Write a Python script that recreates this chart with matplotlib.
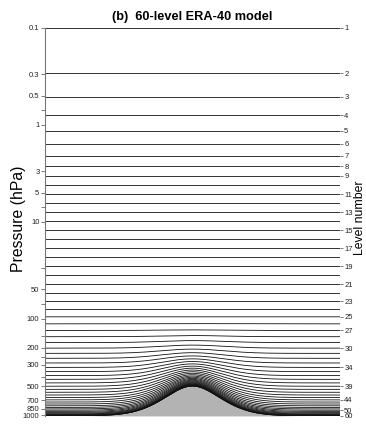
import numpy as np
import matplotlib.pyplot as plt

plt.rcParams['font.family'] = ['Liberation Sans', 'DejaVu Sans']

# ERA-40 L60 hybrid coefficients on half levels 0..60 (a in Pa, b dimensionless)
a_half = [0.000000, 20.000000, 38.425343, 63.647804, 95.636963, 134.483307,
          180.584351, 234.779053, 298.495789, 373.971924, 464.618134,
          575.651001, 713.218079, 883.660522, 1094.834717, 1356.474609,
          1680.640259, 2082.273926, 2579.888672, 3196.421631, 3960.291504,
          4906.708496, 6018.019531, 7306.631348, 8765.053711, 10376.126953,
          12077.446289, 13775.325195, 15379.805664, 16819.474609,
          18045.183594, 19027.695313, 19755.109375, 20222.205078,
          20429.863281, 20384.480469, 20097.402344, 19584.330078,
          18864.750000, 17961.357422, 16899.468750, 15706.447266,
          14411.124023, 13043.218750, 11632.758789, 10209.500977,
          8802.356445, 7438.803223, 6144.314941, 4941.778320, 3850.913330,
          2887.696533, 2063.779785, 1385.912598, 855.361755, 467.333588,
          210.393890, 65.889244, 7.367743, 0.000000, 0.000000]
b_half = [0.0] * 24 + [
    0.0000758235, 0.0004613950, 0.0018151561, 0.0050811190, 0.0111429105,
    0.0206778757, 0.0341211632, 0.0516904071, 0.0735338330, 0.0996746942,
    0.1300225109, 0.1643843204, 0.2024759352, 0.2439331412, 0.2883229554,
    0.3351548910, 0.3838921487, 0.4339629412, 0.4847715795, 0.5357099175,
    0.5861684084, 0.6355474591, 0.6832686067, 0.7287858129, 0.7715966105,
    0.8112534285, 0.8473749161, 0.8796569109, 0.9078838825, 0.9319403172,
    0.9518215060, 0.9676452279, 0.9796627164, 0.9882701039, 0.9940194488,
    0.9976301193, 1.0000000000]

p_surf = 1013.25   # hPa away from the hill
p_peak = 500.0     # hPa on the summit
hill_width = 0.305

press_ticks = [0.1, 0.3, 0.5, 0.7, 1, 3, 5, 7, 10, 30, 50, 70, 100, 150,
               200, 250, 300, 400, 500, 700, 850, 1000]
press_labels = ['0.1', '0.3', '0.5', '', '1', '3', '5', '', '10', '', '50',
                '', '100', '', '200', '', '300', '', '500', '700', '850', '1000']
level_labels = [1, 2, 3, 4, 5, 6, 7, 8, 9, 11, 13, 15, 17, 19, 21, 23, 25,
                27, 30, 34, 39, 44, 50, 60]

a = np.array(a_half) / 100.0
b = np.array(b_half)

x = np.linspace(-1, 1, 801)
ps = p_surf - (p_surf - p_peak) * np.exp(-(x / hill_width) ** 2)

ph = a[:, None] + b[:, None] * ps[None, :]
pf = 0.5 * (ph[:-1] + ph[1:])

fig = plt.figure(figsize=(3.66, 4.24), dpi=100)
ax = fig.add_axes([0.123, 0.019, 0.806, 0.915])

ax.fill_between(x, ps, p_surf, color='#b3b3b3', lw=0)
for k in range(pf.shape[0]):
    ax.plot(x, pf[k], color='#111111', lw=0.6)

ax.set_yscale('log')
ax.set_xlim(-1, 1)
ax.set_ylim(p_surf, 0.1)
ax.set_xticks([])
ax.set_yticks(press_ticks)
ax.set_yticklabels(press_labels)
ax.minorticks_off()
ax.tick_params(axis='y', length=3, width=0.6, color='#666666', pad=1,
               labelsize=5.5, labelcolor='#222222')
for s in ['top', 'right', 'bottom']:
    ax.spines[s].set_visible(False)
ax.spines['left'].set_color('#777777')
ax.spines['left'].set_linewidth(0.8)
ax.set_ylabel('Pressure (hPa)', fontsize=11.3)
ax.yaxis.set_label_coords(-0.064, 0.508)

# level numbers on the right, at the undisturbed full-level pressures
p_far = 0.5 * (a[:-1] + a[1:]) + 0.5 * (b[:-1] + b[1:]) * p_surf
ax2 = ax.twinx()
ax2.set_yscale('log')
ax2.set_ylim(p_surf, 0.1)
ax2.set_yticks([p_far[n - 1] for n in level_labels])
ax2.set_yticklabels([str(n) for n in level_labels])
ax2.minorticks_off()
ax2.tick_params(axis='y', length=2.5, width=0.6, color='#666666', pad=0.5,
                labelsize=5.5, labelcolor='#222222')
for s in ax2.spines.values():
    s.set_visible(False)
ax2.set_ylabel('Level number', fontsize=8.8, va='bottom')
ax2.yaxis.set_label_coords(1.0895, 0.51)

ax.set_title('(b)  60-level ERA-40 model', fontsize=9.2, fontweight='bold',
             pad=6)

fig.savefig('out.png', dpi=100)
